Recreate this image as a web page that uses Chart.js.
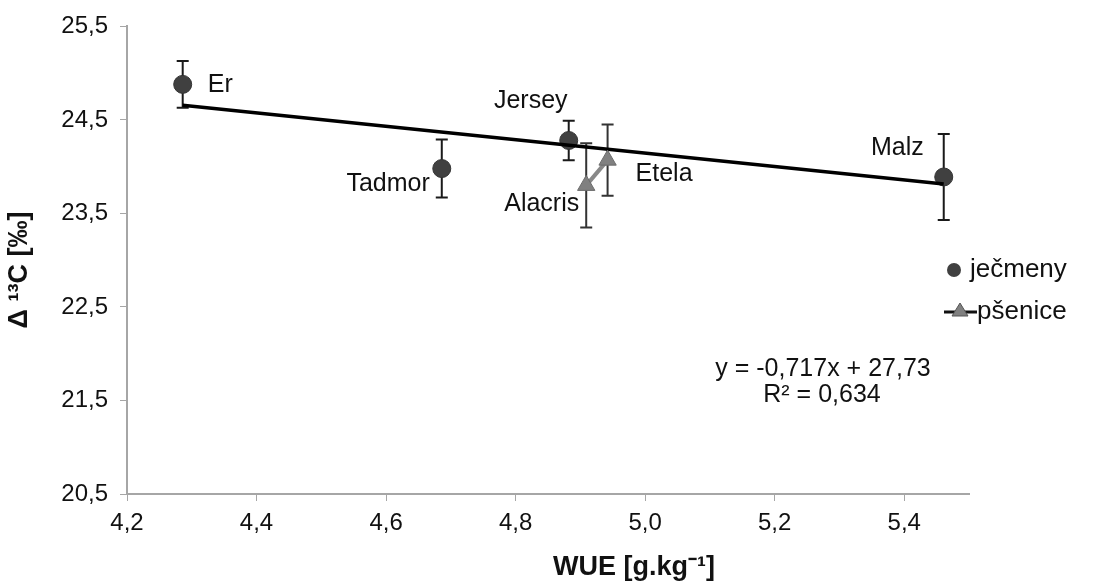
<!DOCTYPE html>
<html>
<head>
<meta charset="utf-8">
<script src="https://cdn.jsdelivr.net/npm/chart.js@4"></script>
<style>
  html, body { margin: 0; padding: 0; background: #fff; }
  #wrap { width: 1099px; height: 586px; position: relative; }
</style>
</head>
<body>
<div id="wrap"><canvas id="wue-chart"></canvas></div>
<script>
// barley cultivars (ječmeny)
var barleyNames = ['Er', 'Tadmor', 'Jersey', 'Malz'];
var barleyWue = [4.286, 4.686, 4.882, 5.461];
var barleyDelta = [24.88, 23.98, 24.28, 23.89];
var barleyErr = [0.25, 0.31, 0.21, 0.46];

// wheat cultivars (pšenice)
var wheatNames = ['Alacris', 'Etela'];
var wheatWue = [4.909, 4.942];
var wheatDelta = [23.80, 24.07];
var wheatErr = [0.45, 0.38];

// linear trend of the barley points
var trendSlope = -0.717;
var trendIntercept = 27.73;
var trendR2 = 0.634;

var xTicks = [4.2, 4.4, 4.6, 4.8, 5.0, 5.2, 5.4];
var yTicks = [20.5, 21.5, 22.5, 23.5, 24.5, 25.5];

var FONT = '"Liberation Sans", Arial, sans-serif';

// where each cultivar name sits relative to its point
var nameOffsets = {
    'Er':      { dx: 25,  dy: 1,   align: 'left' },
    'Tadmor':  { dx: -12, dy: 16,  align: 'right' },
    'Jersey':  { dx: -38, dy: -39, align: 'center' },
    'Malz':    { dx: -20, dy: -29, align: 'right' },
    'Alacris': { dx: -7,  dy: 19,  align: 'right' },
    'Etela':   { dx: 28,  dy: 14,  align: 'left' }
};

function comma(v, digits) {
    return v.toFixed(digits).replace('.', ',');
}

function points(xs, ys) {
    return xs.map(function(x, i) { return { x: x, y: ys[i] }; });
}

var trendX = [Math.min.apply(null, barleyWue), Math.max.apply(null, barleyWue)];
var trendData = trendX.map(function(x) {
    return { x: x, y: trendSlope * x + trendIntercept };
});

// vertical error bars with short caps, drawn under the markers
var errorBars = {
    id: 'errorBars',
    beforeDatasetsDraw: function(chart) {
        var ctx = chart.ctx;
        var xs = chart.scales.x, ys = chart.scales.y;
        function bars(wx, dy, err, color) {
            ctx.save();
            ctx.strokeStyle = color;
            ctx.lineWidth = 2;
            wx.forEach(function(w, i) {
                var px = xs.getPixelForValue(w);
                var top = ys.getPixelForValue(dy[i] + err[i]);
                var bot = ys.getPixelForValue(dy[i] - err[i]);
                ctx.beginPath();
                ctx.moveTo(px, top); ctx.lineTo(px, bot);
                ctx.moveTo(px - 6, top); ctx.lineTo(px + 6, top);
                ctx.moveTo(px - 6, bot); ctx.lineTo(px + 6, bot);
                ctx.stroke();
            });
            ctx.restore();
        }
        bars(barleyWue, barleyDelta, barleyErr, '#1a1a1a');
        bars(wheatWue, wheatDelta, wheatErr, '#333333');
    }
};

// cultivar names, equation, axis titles and legend
var annotations = {
    id: 'annotations',
    afterDraw: function(chart) {
        var ctx = chart.ctx;
        var xs = chart.scales.x, ys = chart.scales.y;
        ctx.save();
        ctx.fillStyle = '#111';
        ctx.font = '25px ' + FONT;
        ctx.textBaseline = 'middle';

        function names(list, wx, dy) {
            list.forEach(function(n, i) {
                var o = nameOffsets[n];
                ctx.textAlign = o.align;
                ctx.fillText(n, xs.getPixelForValue(wx[i]) + o.dx, ys.getPixelForValue(dy[i]) + o.dy);
            });
        }
        names(barleyNames, barleyWue, barleyDelta);
        names(wheatNames, wheatWue, wheatDelta);

        // regression equation
        ctx.textAlign = 'center';
        ctx.font = '25px ' + FONT;
        ctx.fillText('y = ' + comma(trendSlope, 3) + 'x + ' + comma(trendIntercept, 2), 823, 369);
        ctx.fillText('R² = ' + comma(trendR2, 3), 822, 395);

        // axis titles
        ctx.font = 'bold 27px ' + FONT;
        ctx.fillText('WUE [g.kg⁻¹]', 634, 568);
        ctx.save();
        ctx.translate(20, 270);
        ctx.rotate(-Math.PI / 2);
        ctx.fillText('Δ ¹³C [‰]', 0, 0);
        ctx.restore();

        // legend
        ctx.font = '26px ' + FONT;
        ctx.textAlign = 'left';
        ctx.fillStyle = '#404040';
        ctx.beginPath();
        ctx.arc(954, 270, 7, 0, Math.PI * 2);
        ctx.fill();
        ctx.strokeStyle = '#111';
        ctx.lineWidth = 3;
        ctx.beginPath();
        ctx.moveTo(944, 312); ctx.lineTo(977, 312);
        ctx.stroke();
        ctx.fillStyle = '#808080';
        ctx.strokeStyle = '#555';
        ctx.lineWidth = 1;
        ctx.beginPath();
        ctx.moveTo(960, 303); ctx.lineTo(968, 316); ctx.lineTo(952, 316);
        ctx.closePath();
        ctx.fill(); ctx.stroke();
        ctx.fillStyle = '#111';
        ctx.fillText('ječmeny', 970, 270);
        ctx.fillText('pšenice', 977, 312);
        ctx.restore();
    }
};

new Chart(document.getElementById('wue-chart'), {
    type: 'scatter',
    data: {
        datasets: [{
            label: 'pšenice',
            data: points(wheatWue, wheatDelta),
            showLine: true,
            borderColor: '#888888',
            borderWidth: 4,
            backgroundColor: '#808080',
            pointStyle: 'triangle',
            pointRadius: 10,
            pointBorderColor: '#6a6a6a',
            pointBorderWidth: 1,
            order: 0
        }, {
            label: 'trend',
            type: 'line',
            data: trendData,
            borderColor: '#000000',
            borderWidth: 3.5,
            pointRadius: 0,
            fill: false,
            order: 1
        }, {
            label: 'ječmeny',
            data: points(barleyWue, barleyDelta),
            backgroundColor: '#404040',
            pointStyle: 'circle',
            pointRadius: 9,
            pointBorderColor: '#333333',
            pointBorderWidth: 1,
            order: 2
        }]
    },
    options: {
        responsive: true,
        maintainAspectRatio: false,
        animation: false,
        layout: { padding: { top: 24, right: 130, left: 0, bottom: 0 } },
        plugins: {
            legend: { display: false },
            tooltip: { enabled: false }
        },
        scales: {
            x: {
                type: 'linear',
                min: 4.2,
                max: 5.5,
                afterBuildTicks: function(scale) {
                    scale.ticks = xTicks.map(function(v) { return { value: v }; });
                },
                afterFit: function(scale) { scale.height = 92; },
                grid: { drawOnChartArea: false, tickLength: 7, color: '#a6a6a6' },
                border: { color: '#a6a6a6', width: 2 },
                ticks: {
                    color: '#111',
                    font: { family: FONT, size: 24 },
                    padding: 8,
                    maxRotation: 0,
                    callback: function(v) { return comma(v, 1); }
                }
            },
            y: {
                type: 'linear',
                min: 20.5,
                max: 25.5,
                afterBuildTicks: function(scale) {
                    scale.ticks = yTicks.map(function(v) { return { value: v }; });
                },
                afterFit: function(scale) { scale.width = 127; },
                grid: { drawOnChartArea: false, tickLength: 7, color: '#a6a6a6' },
                border: { color: '#a6a6a6', width: 2 },
                ticks: {
                    color: '#111',
                    font: { family: FONT, size: 24 },
                    padding: 12,
                    callback: function(v) { return comma(v, 1); }
                }
            }
        }
    },
    plugins: [errorBars, annotations]
});
</script>
</body>
</html>
